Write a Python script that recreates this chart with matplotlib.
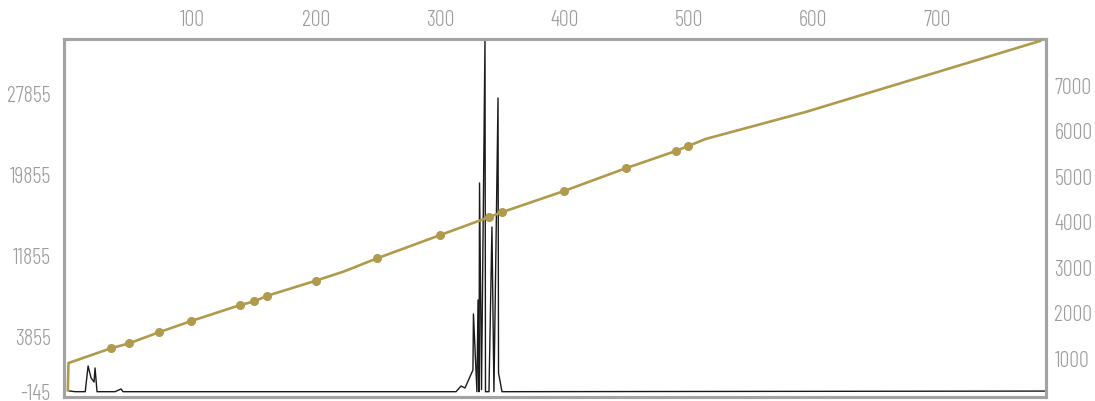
import numpy as np
import matplotlib
matplotlib.use("Agg")
import matplotlib.pyplot as plt

# =============================================================================
# data
# =============================================================================
# black series, left axis
black_x = [1, 6, 14, 16.3, 18.7, 21.1, 21.9, 23.5, 38, 42.8, 44.4, 312.6,
           316.6, 319.8, 326.2, 326.6, 329.4, 330.3, 331.1, 331.5, 333.1,
           335.9, 336.3, 339.1, 341.5, 343.1, 346.4, 346.8, 349.6, 787]
black_y = [-90, -145, -145, 1745, 862, 568, 1598, -145, -145, 54, -145, -145,
           274, 127, 1451, 6156, -145, 7539, -145, 19094, 0,
           33300, -145, -145, 14749, -145, 27489, 1230, -145, -100]

# gold series, right axis
gold_x = [0, 0.5, 34.6, 49.4, 73.3, 99.4, 138.9, 150.2, 160.1, 199.6, 222,
          249.0, 299.3, 338.8, 349.3, 399.6, 449.4, 489.4, 499.4, 513.8,
          594, 782.8]
gold_y = [300, 900, 1224, 1334, 1576, 1824, 2176, 2257, 2374, 2710, 2910,
          3202, 3708, 4104, 4213, 4682, 5183, 5559, 5669, 5827,
          6418, 7979]
gold_marked = [2, 3, 4, 5, 6, 7, 8, 9, 11, 12, 13, 14, 15, 16, 17, 18]

x_ticks = [100, 200, 300, 400, 500, 600, 700]
left_ticks = [-145, 3855, 11855, 19855, 27855]
right_ticks = [1000, 2000, 3000, 4000, 5000, 6000, 7000]

GOLD = '#b09a4c'
GREY = '#a3a3a3'
LABEL = '#9c9c9c'

# left axis: the bottom stretch (-145 .. 3855) is drawn wider than the rest
knots_d = [-1e6, -145, 3855, 1e6]
knots_p = [-(1e6 - 145) * 0.0136, 0, 54.4, 54.4 + (1e6 - 3855) * 0.010125]


def fwd(v):
    return np.interp(v, knots_d, knots_p)


def inv(p):
    return np.interp(p, knots_p, knots_d)


plt.rcParams['font.family'] = ['Barlow Condensed', 'DejaVu Sans']
plt.rcParams['font.weight'] = 300

fig = plt.figure(figsize=(10.95, 4.01), dpi=100)
ax = fig.add_axes([0.0589, 0.0100, 0.8963, 0.8915])
ax2 = ax.twinx()

ax.plot(black_x, black_y, color='#1a1a1a', lw=1.0, zorder=2)
ax2.plot(gold_x, gold_y, color=GOLD, lw=1.9, marker='o', ms=5.5,
         markevery=gold_marked, zorder=3)

ax.set_yscale('function', functions=(fwd, inv))
ax.set_xlim(-2.7, 787.6)
ax.set_ylim(inv(-5.3), inv(352.2))
ax2.set_ylim(154, 8012)

ax.set_xticks(x_ticks)
ax.set_yticks(left_ticks)
ax.set_yticklabels([str(t) for t in left_ticks])
ax2.set_yticks(right_ticks)

ax.xaxis.tick_top()
ax.tick_params(axis='x', length=0, pad=6, labelsize=16, labelcolor=LABEL)
ax.tick_params(axis='y', length=0, pad=10, labelsize=16, labelcolor=LABEL)
ax2.tick_params(axis='y', length=0, pad=6, labelsize=16, labelcolor=LABEL)
ax.minorticks_off()

for a in (ax, ax2):
    for s in a.spines.values():
        s.set_color(GREY)
        s.set_linewidth(2.2)

fig.savefig('out.png', dpi=100)
